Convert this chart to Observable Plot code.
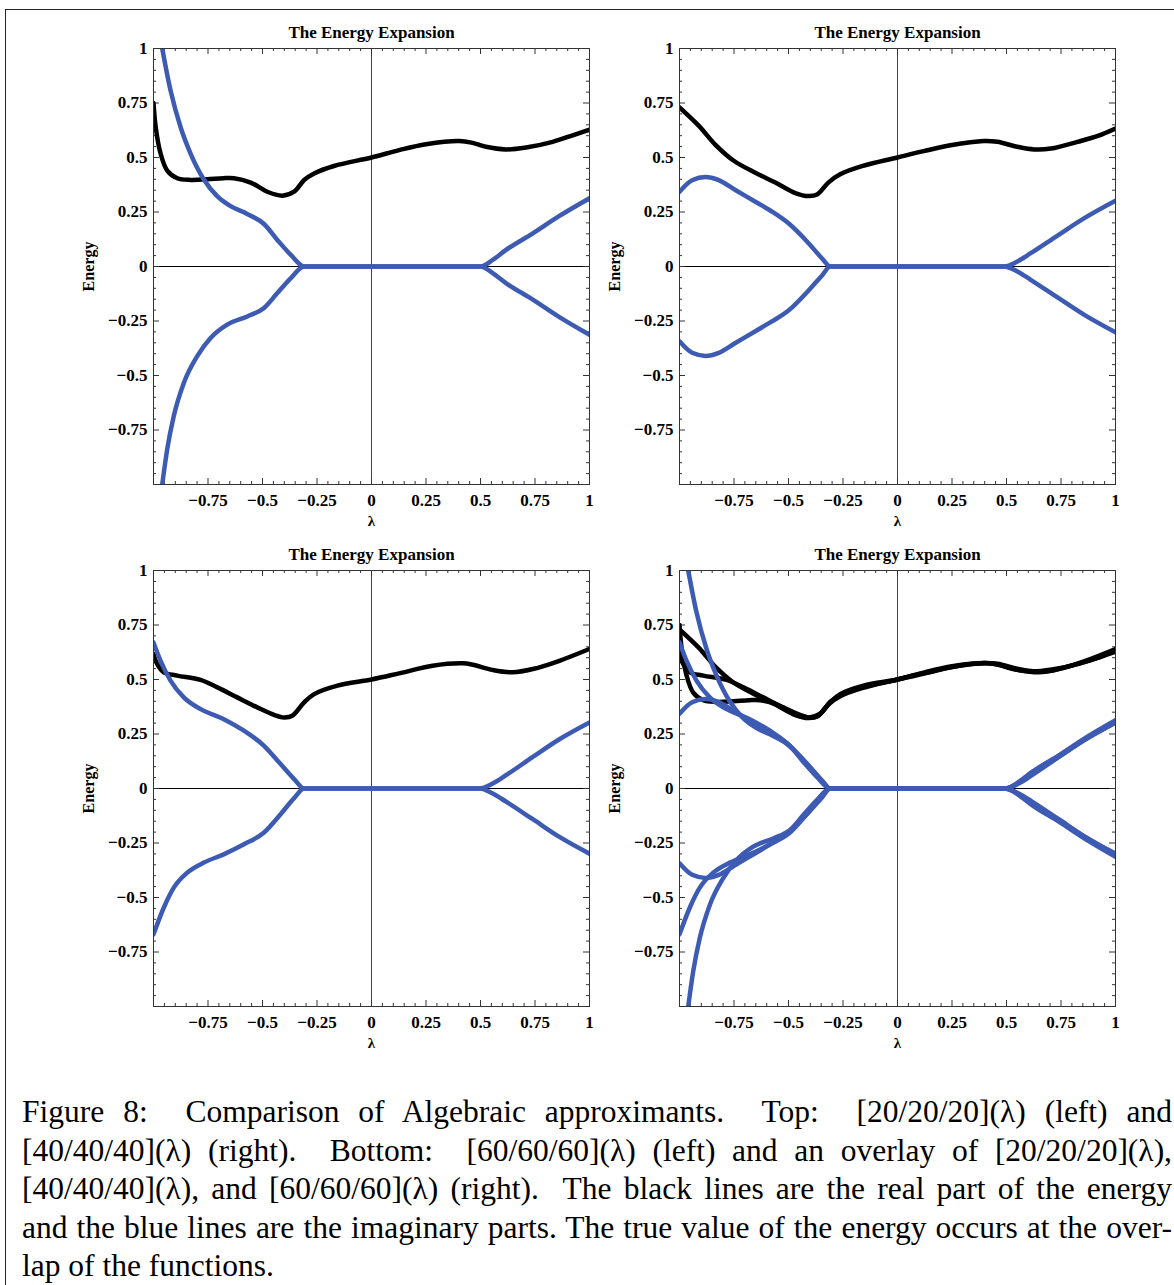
<!DOCTYPE html>
<html><head><meta charset="utf-8">
<script src="https://cdn.jsdelivr.net/npm/d3@7"></script>
<script src="https://cdn.jsdelivr.net/npm/@observablehq/plot@0.6"></script>
<style>
body{margin:0;background:#fff;}
#page{position:relative;width:1174px;height:1285px;overflow:hidden;background:#fff;}
#frame{position:absolute;left:5px;top:9px;width:1200px;height:1300px;border-top:1px solid #222;border-left:1px solid #222;}
.panel{position:absolute;}
#caption{position:absolute;left:22px;top:1093px;width:1150px;font-family:"Liberation Serif","Times New Roman",serif;font-size:31.5px;line-height:38.6px;color:#000;}
#caption div{text-align:justify;text-align-last:justify;white-space:nowrap;}
#caption div.last{text-align:left;text-align-last:left;}
</style>
</head><body>
<div id="page">
  <div id="frame"></div>
  <div class="panel" id="p1" style="left:60px;top:15px"></div>
  <div class="panel" id="p2" style="left:586px;top:15px"></div>
  <div class="panel" id="p3" style="left:60px;top:537px"></div>
  <div class="panel" id="p4" style="left:586px;top:537px"></div>
  <div id="caption">
    <div>Figure 8:&nbsp; Comparison of Algebraic approximants.&nbsp; Top:&nbsp; [20/20/20](λ) (left) and</div>
    <div>[40/40/40](λ) (right).&nbsp; Bottom:&nbsp; [60/60/60](λ) (left) and an overlay of [20/20/20](λ),</div>
    <div>[40/40/40](λ), and [60/60/60](λ) (right).&nbsp; The black lines are the real part of the energy</div>
    <div>and the blue lines are the imaginary parts. The true value of the energy occurs at the over-</div>
    <div class="last">lap of the functions.</div>
  </div>
</div>
<script>
// ---------- tick labels ----------
const xTickVals = [-0.75, -0.5, -0.25, 0, 0.25, 0.5, 0.75, 1];
const xTickLabels = ["−0.75", "−0.5", "−0.25", "0", "0.25", "0.5", "0.75", "1"];
const yTickVals = [1, 0.75, 0.5, 0.25, 0, -0.25, -0.5, -0.75];
const yTickLabels = ["1", "0.75", "0.5", "0.25", "0", "−0.25", "−0.5", "−0.75"];
const majorTicks = [-1, -0.75, -0.5, -0.25, 0, 0.25, 0.5, 0.75, 1];
const minorTicks = [-0.95,-0.9,-0.85,-0.8,-0.7,-0.65,-0.6,-0.55,-0.45,-0.4,-0.35,-0.3,-0.2,-0.15,-0.1,-0.05,
                    0.05,0.1,0.15,0.2,0.3,0.35,0.4,0.45,0.55,0.6,0.65,0.7,0.8,0.85,0.9,0.95];
const panelTitle = "The Energy Expansion";
const yLabelText = "Energy";
const xLabelText = "λ";

// ---------- [20/20/20] ----------
const lamRe20 = [-1,-0.99,-0.968,-0.937,-0.891,-0.83,-0.753,-0.68,-0.631,-0.554,-0.478,-0.409,-0.355,-0.309,-0.263,-0.172,0,0.127,0.25,0.403,0.464,0.502,0.525,0.617,0.709,0.831,0.923,1];
const re20    = [0.75,0.64,0.52,0.44,0.405,0.397,0.40,0.405,0.405,0.385,0.343,0.325,0.343,0.397,0.427,0.461,0.50,0.534,0.561,0.576,0.567,0.556,0.549,0.537,0.546,0.572,0.602,0.628];
const lamImUp20 = [-0.96,-0.922,-0.876,-0.83,-0.769,-0.708,-0.646,-0.57,-0.493,-0.432,-0.37,-0.309,0.5,0.556,0.617,0.74,0.862,1];
const imUp20    = [1.0,0.808,0.64,0.518,0.399,0.323,0.277,0.241,0.195,0.122,0.053,0,0,0.03,0.076,0.152,0.232,0.313];
const lamImLo20 = [-0.96,-0.937,-0.907,-0.861,-0.8,-0.738,-0.662,-0.57,-0.493,-0.432,-0.37,-0.309,0.5,0.556,0.617,0.74,0.862,1];
const imLo20    = [-1.0,-0.838,-0.686,-0.534,-0.412,-0.328,-0.267,-0.229,-0.19,-0.122,-0.053,0,0,-0.03,-0.076,-0.152,-0.232,-0.313];

// ---------- [40/40/40] ----------
const lamRe40 = [-1,-0.911,-0.835,-0.751,-0.652,-0.56,-0.469,-0.408,-0.369,-0.316,-0.263,-0.163,0,0.12,0.243,0.396,0.458,0.55,0.627,0.704,0.826,0.919,1];
const re40    = [0.73,0.645,0.558,0.485,0.43,0.385,0.337,0.323,0.33,0.386,0.423,0.46,0.50,0.529,0.556,0.576,0.572,0.549,0.537,0.541,0.572,0.599,0.633];
const lamImUp40 = [-1,-0.942,-0.881,-0.82,-0.744,-0.652,-0.576,-0.5,-0.408,-0.347,-0.308,0.489,0.55,0.611,0.734,0.857,1];
const imUp40    = [0.343,0.396,0.41,0.396,0.351,0.297,0.252,0.198,0.107,0.038,0,0,0.023,0.061,0.142,0.222,0.302];
const lamImLo40 = [-1,-0.942,-0.881,-0.82,-0.744,-0.652,-0.576,-0.5,-0.408,-0.347,-0.308,0.489,0.55,0.611,0.734,0.857,1];
const imLo40    = [-0.343,-0.396,-0.41,-0.396,-0.351,-0.297,-0.252,-0.202,-0.11,-0.042,0,0,-0.023,-0.061,-0.142,-0.222,-0.302];

// ---------- [60/60/60] ----------
const lamRe60 = [-1,-0.983,-0.953,-0.891,-0.784,-0.707,-0.616,-0.524,-0.447,-0.401,-0.363,-0.309,-0.263,-0.156,0,0.127,0.28,0.418,0.464,0.556,0.648,0.74,0.862,1];
const re60    = [0.617,0.571,0.533,0.518,0.498,0.464,0.418,0.372,0.338,0.326,0.334,0.395,0.433,0.472,0.50,0.528,0.563,0.574,0.568,0.544,0.533,0.548,0.586,0.64];
const lamImUp60 = [-1,-0.968,-0.922,-0.861,-0.784,-0.678,-0.585,-0.493,-0.417,-0.355,-0.309,0.495,0.556,0.617,0.74,0.862,1];
const imUp60    = [0.67,0.587,0.495,0.418,0.364,0.318,0.265,0.196,0.112,0.043,0,0,0.023,0.061,0.145,0.226,0.303];
const lamImLo60 = [-1,-0.953,-0.907,-0.845,-0.769,-0.678,-0.585,-0.493,-0.417,-0.355,-0.309,0.495,0.556,0.617,0.74,0.862,1];
const imLo60    = [-0.669,-0.547,-0.455,-0.386,-0.34,-0.302,-0.256,-0.202,-0.118,-0.044,0,0,-0.023,-0.06,-0.141,-0.222,-0.299];

const BLACK = "#000000";
const BLUE = "#3e5bb3";

function series(xs, ys, color) {
  return {data: xs.map((x, i) => ({x, y: ys[i]})), color};
}
const set20 = [series(lamRe20, re20, BLACK), series(lamImUp20, imUp20, BLUE), series(lamImLo20, imLo20, BLUE)];
const set40 = [series(lamRe40, re40, BLACK), series(lamImUp40, imUp40, BLUE), series(lamImLo40, imLo40, BLUE)];
const set60 = [series(lamRe60, re60, BLACK), series(lamImUp60, imUp60, BLUE), series(lamImLo60, imLo60, BLUE)];

const xLabel = new Map(xTickVals.map((v, i) => [v, xTickLabels[i]]));
const yLabel = new Map(yTickVals.map((v, i) => [v, yTickLabels[i]]));

const W = 436, H = 436;
function makePanel(sets) {
  const marks = [
    Plot.ruleY([0], {stroke: "#000", strokeWidth: 1}),
    Plot.ruleX([0], {stroke: "#444", strokeWidth: 1}),
    Plot.tickX(minorTicks, {x: d => d, insetTop: H - 3, stroke: "#333"}),
    Plot.tickX(minorTicks, {x: d => d, insetBottom: H - 3, stroke: "#333"}),
    Plot.tickX(majorTicks, {x: d => d, insetTop: H - 6, stroke: "#333"}),
    Plot.tickX(majorTicks, {x: d => d, insetBottom: H - 6, stroke: "#333"}),
    Plot.tickY(minorTicks, {y: d => d, insetRight: W - 3, stroke: "#333"}),
    Plot.tickY(minorTicks, {y: d => d, insetLeft: W - 3, stroke: "#333"}),
    Plot.tickY(majorTicks, {y: d => d, insetRight: W - 6, stroke: "#333"}),
    Plot.tickY(majorTicks, {y: d => d, insetLeft: W - 6, stroke: "#333"})
  ];
  const all = sets.flat();
  for (const s of all.filter(s => s.color === BLACK))
    marks.push(Plot.line(s.data, {x: "x", y: "y", stroke: s.color, strokeWidth: 4.5, curve: "catmull-rom", clip: true}));
  for (const s of all.filter(s => s.color === BLUE))
    marks.push(Plot.line(s.data, {x: "x", y: "y", stroke: s.color, strokeWidth: 4.5, curve: "monotone-x", clip: true}));
  marks.push(
    Plot.frame({stroke: "#333", strokeWidth: 1}),
    Plot.axisX(xTickVals, {anchor: "bottom", tickSize: 0, tickPadding: 9, tickFormat: d => xLabel.get(d), label: null}),
    Plot.axisY(yTickVals, {anchor: "left", tickSize: 0, tickPadding: 6, tickFormat: d => yLabel.get(d), label: null}),
    Plot.text([panelTitle], {frameAnchor: "top", lineAnchor: "middle", dy: -16, text: d => d}),
    Plot.text([yLabelText], {frameAnchor: "left", textAnchor: "middle", lineAnchor: "middle", dx: -65, rotate: -90, text: d => d, fontSize: 16}),
    Plot.text([xLabelText], {frameAnchor: "bottom", lineAnchor: "middle", dy: 37, text: d => d, fontSize: 15})
  );
  return Plot.plot({
    width: 545, height: 529,
    marginLeft: 93, marginRight: 16, marginTop: 33, marginBottom: 60,
    x: {domain: [-1, 1], label: null},
    y: {domain: [-1, 1], label: null},
    style: {fontFamily: "'Liberation Serif', 'Times New Roman', serif", fontSize: "17px", fontWeight: "bold", color: "#000", background: "transparent", overflow: "visible"},
    marks
  });
}

document.getElementById("p1").appendChild(makePanel([set20]));
document.getElementById("p2").appendChild(makePanel([set40]));
document.getElementById("p3").appendChild(makePanel([set60]));
document.getElementById("p4").appendChild(makePanel([set20, set40, set60]));
</script>
</body></html>
